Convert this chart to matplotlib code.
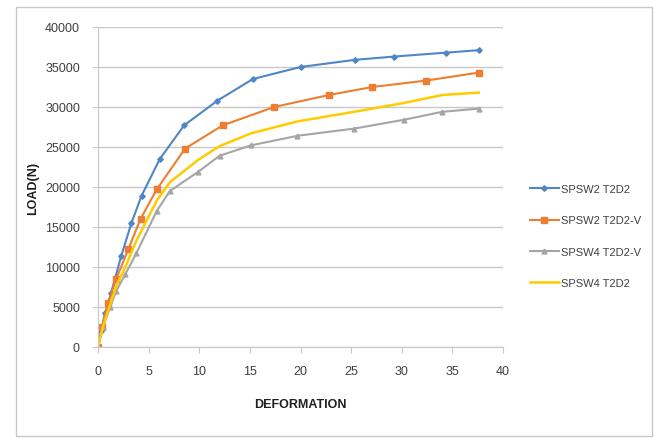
import matplotlib
matplotlib.use("Agg")
import matplotlib.pyplot as plt
from matplotlib.patches import Rectangle

plt.rcParams['font.family'] = ['Liberation Sans Narrow', 'Liberation Sans', 'DejaVu Sans']

# load vs deformation for each specimen
blue_x = [0, 0.3, 0.7, 1.3, 2.3, 3.3, 4.3, 6.1, 8.5, 11.8, 15.3, 20.0, 25.4, 29.2, 34.4, 37.6]
blue_y = [0, 2000, 4200, 6800, 11400, 15500, 18900, 23500, 27700, 30800, 33500, 35000, 35900, 36300, 36800, 37100]

orange_x = [0, 0.4, 1.0, 1.8, 3.0, 4.2, 5.8, 8.6, 12.3, 17.4, 22.8, 27.1, 32.4, 37.6]
orange_y = [0, 2500, 5500, 8500, 12250, 16000, 19700, 24800, 27700, 30000, 31500, 32500, 33300, 34300]

gray_x = [0, 0.5, 1.2, 1.8, 2.7, 3.8, 5.8, 7.1, 9.9, 12.0, 15.1, 19.7, 25.3, 30.2, 34.0, 37.6]
gray_y = [0, 2500, 5000, 7000, 9100, 11750, 17000, 19500, 21900, 23900, 25200, 26400, 27300, 28400, 29400, 29800]

yellow_x = [0, 0.5, 1.2, 1.8, 2.7, 3.8, 5.8, 7.1, 9.9, 12.0, 15.1, 19.7, 25.3, 30.2, 34.0, 37.6]
yellow_y = [0, 2600, 5300, 7600, 10000, 13300, 18300, 20600, 23400, 25100, 26700, 28200, 29400, 30500, 31500, 31800]

labels = ['SPSW2 T2D2', 'SPSW2 T2D2-V', 'SPSW4 T2D2-V', 'SPSW4 T2D2']

fig = plt.figure(figsize=(6.6, 4.39), dpi=100)
ax = fig.add_axes([98 / 660, 1 - 348 / 439, 405 / 660, 320 / 439])

ax.plot(blue_x, blue_y, color='#4f86c6', lw=1.5, marker='D', ms=2.8, label=labels[0])
ax.plot(orange_x, orange_y, color='#ed7d31', lw=1.5, marker='s', ms=4, label=labels[1])
ax.plot(gray_x, gray_y, color='#a5a5a5', lw=1.5, marker='^', ms=3.5, label=labels[2])
ax.plot(yellow_x, yellow_y, color='#ffcc00', lw=1.8, label=labels[3])

ax.set_xlim(0, 40)
ax.set_ylim(0, 40000)
ax.set_xticks(range(0, 41, 5))
ax.set_yticks(range(0, 40001, 5000))
ax.yaxis.grid(True, color='#c8c8c8', lw=1)
ax.set_axisbelow(True)
for side in ['top', 'right']:
    ax.spines[side].set_visible(False)
ax.spines['left'].set_color('#c8c8c8')
ax.spines['bottom'].set_color('#c8c8c8')
ax.tick_params(axis='both', colors='#c8c8c8', labelcolor='#404040', labelsize=9, length=4)
ax.tick_params(axis='y', pad=9)
ax.tick_params(axis='x', pad=9)

ax.set_xlabel('DEFORMATION', fontsize=9, fontweight='bold', color='#202020', labelpad=15)
ax.set_ylabel('LOAD(N)', fontsize=9, fontweight='bold', color='#202020', labelpad=4)

ax.legend(loc='center left', bbox_to_anchor=(520 / 660, 1 - 237 / 439), bbox_transform=fig.transFigure,
          frameon=False, fontsize=8, handlelength=2.6, labelspacing=1.9, handletextpad=0.2,
          labelcolor='#404040')

# outer chart border
fig.patches.append(Rectangle((16 / 660, 1 - 437 / 439), 636 / 660, 429 / 439,
                             transform=fig.transFigure, fill=False, edgecolor='#c8c8c8', lw=1))

fig.savefig('out.png', dpi=100)
